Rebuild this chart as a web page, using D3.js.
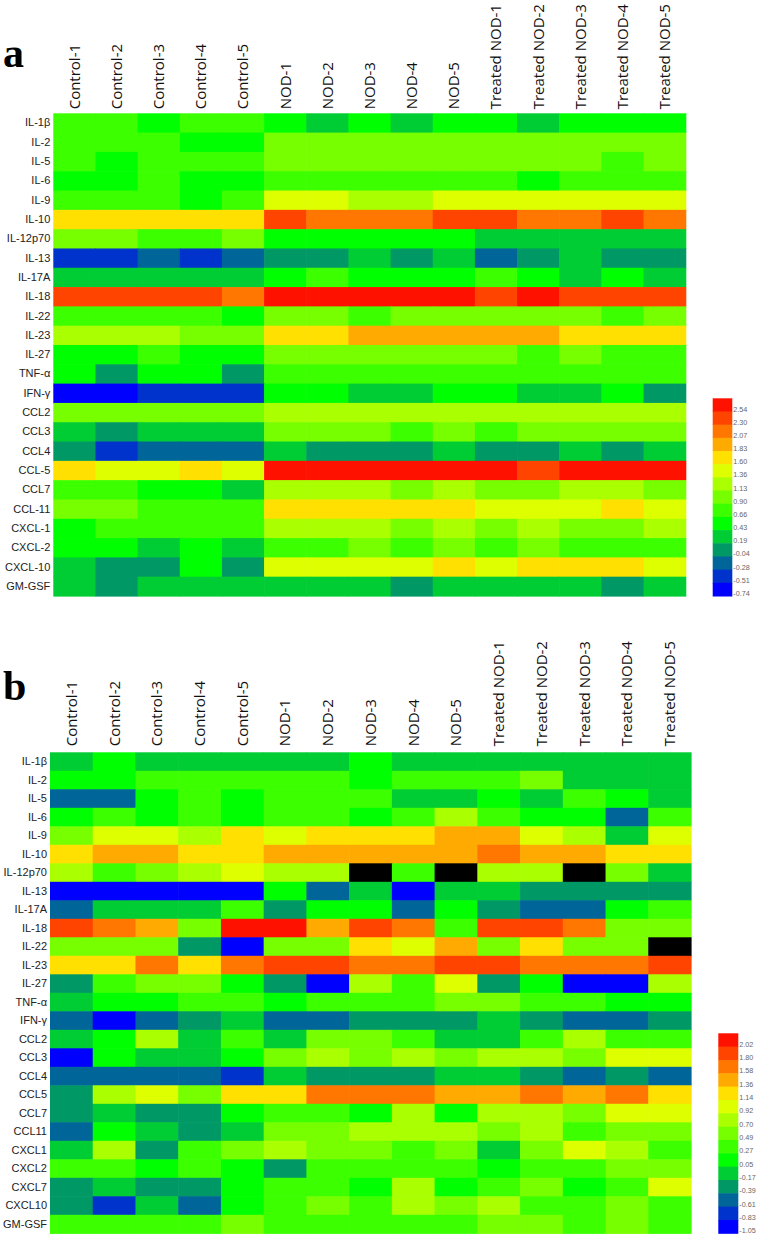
<!DOCTYPE html>
<html>
<head>
<meta charset="utf-8">
<script src="https://cdn.jsdelivr.net/npm/d3@7"></script>
<style>
  html, body { margin: 0; padding: 0; background: #fff; }
  svg { display: block; }
</style>
</head>
<body>
<div id="chart"></div>
<script>
// ---------- DATA ----------
const columns = ["Control-1","Control-2","Control-3","Control-4","Control-5",
  "NOD-1","NOD-2","NOD-3","NOD-4","NOD-5",
  "Treated NOD-1","Treated NOD-2","Treated NOD-3","Treated NOD-4","Treated NOD-5"];

const rowsA = ["IL-1β","IL-2","IL-5","IL-6","IL-9","IL-10","IL-12p70","IL-13","IL-17A","IL-18",
  "IL-22","IL-23","IL-27","TNF-α","IFN-γ","CCL2","CCL3","CCL4","CCL-5","CCL7","CCL-11",
  "CXCL-1","CXCL-2","CXCL-10","GM-GSF"];

const rowsB = ["IL-1β","IL-2","IL-5","IL-6","IL-9","IL-10","IL-12p70","IL-13","IL-17A","IL-18",
  "IL-22","IL-23","IL-27","TNF-α","IFN-γ","CCL2","CCL3","CCL4","CCL5","CCL7","CCL11",
  "CXCL1","CXCL2","CXCL7","CXCL10","GM-GSF"];

const legendTicksA = [-0.74,-0.51,-0.28,-0.04,0.19,0.43,0.66,0.90,1.13,1.36,1.60,1.83,2.07,2.30,2.54];
const legendTicksB = [-1.05,-0.83,-0.61,-0.39,-0.17,0.05,0.27,0.49,0.70,0.92,1.14,1.36,1.58,1.80,2.02];

const palette = ["#0000ff","#0033cc","#006699","#009966","#00cc33","#00ff00","#3cff00","#77ff00",
  "#aaff00","#ddff00","#ffe000","#ffaa00","#ff7700","#ff4400","#ff1100"];
const missingColor = "#000000";

const valuesA = [
  [0.66,0.66,0.43,0.66,0.66,0.43,0.19,0.43,0.19,0.43,0.43,0.19,0.43,0.43,0.43],
  [0.66,0.66,0.66,0.43,0.43,0.90,0.90,0.90,0.90,0.90,0.90,0.90,0.90,0.90,0.90],
  [0.66,0.43,0.66,0.66,0.66,0.90,0.90,0.90,0.90,0.90,0.90,0.90,0.90,0.66,0.90],
  [0.43,0.43,0.66,0.43,0.43,0.66,0.66,0.66,0.66,0.66,0.66,0.43,0.66,0.66,0.66],
  [0.66,0.66,0.66,0.43,0.66,1.36,1.36,1.13,1.13,1.36,1.36,1.36,1.36,1.36,1.36],
  [1.60,1.60,1.60,1.60,1.60,2.30,2.07,2.07,2.07,2.30,2.30,2.07,2.07,2.30,2.07],
  [0.90,0.90,0.66,0.66,0.90,0.43,0.43,0.43,0.43,0.43,0.19,0.19,0.19,0.19,0.19],
  [-0.51,-0.51,-0.28,-0.51,-0.28,-0.04,-0.04,0.19,-0.04,0.19,-0.28,-0.04,0.19,-0.04,-0.04],
  [0.19,0.19,0.19,0.19,0.19,0.43,0.66,0.43,0.43,0.43,0.66,0.43,0.19,0.43,0.19],
  [2.30,2.30,2.30,2.30,2.07,2.54,2.54,2.54,2.54,2.54,2.30,2.54,2.30,2.30,2.30],
  [0.66,0.66,0.66,0.66,0.43,0.90,0.90,0.66,0.90,0.90,0.90,0.90,0.90,0.66,0.90],
  [1.13,1.13,1.13,0.90,0.90,1.60,1.60,1.83,1.83,1.83,1.83,1.83,1.60,1.60,1.60],
  [0.43,0.43,0.66,0.43,0.43,0.90,0.90,0.90,0.90,0.90,0.90,0.66,0.90,0.66,0.66],
  [0.43,-0.04,0.43,0.43,-0.04,0.66,0.66,0.66,0.66,0.66,0.66,0.66,0.66,0.66,0.66],
  [-0.74,-0.74,-0.51,-0.51,-0.51,0.43,0.43,0.19,0.19,0.43,0.43,0.19,0.19,0.43,-0.04],
  [0.90,0.90,0.90,0.90,0.90,1.13,1.13,1.13,1.13,1.13,1.13,1.13,1.13,1.13,1.13],
  [0.19,-0.04,0.19,0.19,0.19,0.90,0.90,0.90,0.66,0.90,0.66,0.90,0.90,0.90,0.90],
  [-0.04,-0.51,-0.28,-0.28,-0.28,0.19,-0.04,-0.04,-0.04,0.19,-0.04,-0.04,0.19,-0.04,0.19],
  [1.60,1.36,1.36,1.60,1.36,2.54,2.54,2.54,2.54,2.54,2.54,2.30,2.54,2.54,2.54],
  [0.66,0.66,0.43,0.43,0.19,1.13,1.13,1.13,0.90,1.13,0.90,0.90,1.13,1.13,0.90],
  [0.90,0.90,0.66,0.66,0.66,1.60,1.60,1.60,1.60,1.60,1.36,1.36,1.36,1.60,1.36],
  [0.43,0.66,0.66,0.66,0.66,1.13,1.13,1.13,0.90,1.13,0.90,1.13,0.90,0.90,1.13],
  [0.43,0.43,0.19,0.43,0.19,0.66,0.66,0.90,0.66,0.90,0.66,0.90,0.66,0.66,0.66],
  [0.19,-0.04,-0.04,0.43,-0.04,1.36,1.36,1.36,1.36,1.60,1.36,1.60,1.60,1.60,1.36],
  [0.19,-0.04,0.19,0.19,0.19,0.19,0.19,0.19,-0.04,0.19,0.19,0.19,0.19,-0.04,0.19]
];

const valuesB = [
  [-0.17,0.05,-0.17,-0.17,-0.17,-0.17,-0.17,0.05,-0.17,-0.17,-0.17,-0.17,-0.17,-0.17,-0.17],
  [0.05,0.05,0.27,0.27,0.27,0.27,0.27,0.05,0.27,0.27,0.27,0.49,-0.17,-0.17,-0.17],
  [-0.61,-0.61,0.05,0.27,0.05,0.27,0.27,0.27,-0.17,-0.17,0.05,-0.17,0.27,0.05,-0.17],
  [0.05,0.27,0.05,0.27,0.05,0.27,0.27,0.05,0.27,0.70,0.27,0.05,0.05,-0.61,0.27],
  [0.49,0.92,0.92,0.70,1.14,0.92,1.14,1.14,1.14,1.36,1.36,0.92,0.70,-0.17,0.92],
  [1.14,1.36,1.36,1.14,1.14,1.36,1.36,1.36,1.36,1.36,1.58,1.36,1.36,1.14,1.14],
  [0.70,0.27,0.49,0.70,0.92,0.70,0.70,null,0.27,null,0.70,0.70,null,0.49,-0.17],
  [-1.05,-1.05,-1.05,-1.05,-1.05,0.05,-0.61,-0.17,-1.05,-0.17,-0.17,-0.39,-0.39,-0.39,-0.39],
  [-0.61,-0.17,-0.17,-0.17,0.27,-0.39,0.05,0.05,-0.61,0.05,-0.39,-0.61,-0.61,0.05,0.27],
  [1.80,1.58,1.36,0.49,2.02,2.02,1.36,1.80,1.58,0.27,1.80,1.80,1.58,0.49,0.49],
  [0.49,0.49,0.49,-0.39,-1.05,0.49,0.49,1.14,0.92,1.36,0.49,1.14,0.49,0.49,null],
  [1.14,1.14,1.58,1.14,1.58,1.80,1.80,1.58,1.58,1.80,1.80,1.58,1.58,1.58,1.80],
  [-0.39,0.27,0.49,0.49,0.05,-0.39,-1.05,0.70,0.27,0.92,-0.39,0.05,-1.05,-1.05,0.70],
  [-0.17,0.05,0.05,0.27,0.27,0.05,0.27,0.27,0.27,0.49,0.49,0.27,0.27,0.05,0.05],
  [-0.61,-1.05,-0.61,-0.39,-0.17,-0.61,-0.61,-0.39,-0.39,-0.39,-0.17,-0.39,-0.61,-0.61,-0.39],
  [-0.17,0.05,0.70,-0.17,0.27,-0.17,0.49,0.49,0.27,-0.17,-0.17,0.27,0.70,0.27,0.27],
  [-1.05,0.05,-0.17,-0.17,0.05,0.49,0.70,0.49,0.70,0.49,0.70,0.70,0.49,0.92,0.92],
  [-0.61,-0.61,-0.61,-0.61,-0.83,-0.17,-0.39,-0.39,-0.39,-0.17,-0.17,-0.39,-0.61,-0.39,-0.61],
  [-0.39,0.70,0.92,0.49,1.14,1.14,1.58,1.58,1.58,1.36,1.36,1.58,1.36,1.58,1.14],
  [-0.39,-0.17,-0.39,-0.39,0.05,0.27,0.27,0.05,0.70,0.05,0.70,0.70,0.49,0.92,0.92],
  [-0.61,0.05,-0.17,-0.39,-0.17,0.49,0.49,0.70,0.70,0.70,0.49,0.70,0.27,0.49,0.49],
  [-0.17,0.70,-0.39,0.27,0.49,0.70,0.49,0.49,0.27,0.49,-0.17,0.49,0.92,0.70,0.27],
  [0.27,0.27,0.05,0.27,0.05,-0.39,0.27,0.27,0.27,0.27,0.05,0.27,0.27,0.49,0.49],
  [-0.39,-0.17,-0.39,-0.39,0.05,0.27,0.27,0.05,0.70,0.05,0.27,0.49,0.05,0.27,0.92],
  [-0.39,-0.83,-0.17,-0.61,0.05,0.27,0.49,0.27,0.70,0.49,0.70,0.27,0.27,0.49,0.27],
  [0.27,0.27,0.27,0.27,0.49,0.27,0.27,0.27,0.27,0.27,0.49,0.49,0.27,0.49,0.27]
];

// ---------- DRAW ----------
const W = 759, H = 1239;
const svg = d3.select("#chart").append("svg")
  .attr("width", W).attr("height", H)
  .style("background", "#fff");

const fmt = d3.formatLocale({ decimal: ".", thousands: ",", grouping: [3], currency: ["", ""], minus: "-" }).format(".2f");

function heatmap(cfg) {
  const { letter, letterY, rows, values, ticks, left, right, top, bottom,
          labelGap, legX, legW, legTop, legBottom } = cfg;

  const x = d3.scaleBand().domain(columns).range([left, right]);
  const y = d3.scaleBand().domain(rows).range([top, bottom]);
  const step = ticks[1] - ticks[0];
  const color = d3.scaleQuantize()
    .domain([ticks[0] - step / 2, ticks[ticks.length - 1] + step / 2])
    .range(palette);

  const cells = [];
  rows.forEach((r, i) => columns.forEach((c, j) => cells.push({ r, c, v: values[i][j] })));

  const g = svg.append("g");
  g.selectAll("rect.cell").data(cells).join("rect")
    .attr("class", "cell")
    .attr("x", d => x(d.c))
    .attr("y", d => y(d.r))
    .attr("width", x.bandwidth() + 0.6)
    .attr("height", y.bandwidth() + 0.6)
    .attr("fill", d => d.v == null ? missingColor : color(d.v));

  // row labels
  const yAxis = g.append("g")
    .attr("transform", `translate(${left},0)`)
    .call(d3.axisLeft(y).tickSize(0).tickPadding(3));
  yAxis.select(".domain").remove();
  yAxis.selectAll("text")
    .attr("font-family", "'Liberation Sans', Arial, sans-serif")
    .attr("font-size", 11)
    .attr("fill", "#222");

  // column labels
  const xAxis = g.append("g")
    .attr("transform", `translate(0,${top})`)
    .call(d3.axisTop(x).tickSize(0));
  xAxis.select(".domain").remove();
  xAxis.selectAll("text")
    .attr("transform", "rotate(-90)")
    .attr("x", labelGap)
    .attr("y", 0)
    .attr("dy", "0.36em")
    .style("text-anchor", "start")
    .attr("font-family", "'Open Sans', sans-serif")
    .attr("font-size", 15)
    .attr("fill", "#111");

  // panel letter
  svg.append("text")
    .attr("x", 3).attr("y", letterY)
    .attr("font-family", "'Liberation Serif', 'Times New Roman', serif")
    .attr("font-weight", "bold")
    .attr("font-size", 42)
    .attr("fill", "#000")
    .text(letter);

  // legend
  const lev = ticks.slice().reverse();
  const ly = d3.scaleBand().domain(lev).range([legTop, legBottom]);
  const lg = svg.append("g");
  lg.selectAll("rect").data(lev).join("rect")
    .attr("x", legX).attr("width", legW)
    .attr("y", d => ly(d)).attr("height", ly.bandwidth() + 0.5)
    .attr("fill", d => color(d));
  lg.selectAll("text").data(lev).join("text")
    .attr("x", legX + legW + 1)
    .attr("y", d => ly(d) + ly.bandwidth() - 2.5)
    .attr("dy", "0.35em")
    .attr("font-family", "'Liberation Sans', Arial, sans-serif")
    .attr("font-size", 7.2)
    .attr("fill", "#666")
    .text(d => fmt(d));
}

heatmap({
  letter: "a", letterY: 67, rows: rowsA, values: valuesA, ticks: legendTicksA,
  left: 53.3, right: 685.7, top: 113.3, bottom: 596, labelGap: 4,
  legX: 712.7, legW: 19.6, legTop: 398.3, legBottom: 596
});

heatmap({
  letter: "b", letterY: 700, rows: rowsB, values: valuesB, ticks: legendTicksB,
  left: 50, right: 691, top: 752.3, bottom: 1233.3, labelGap: 6,
  legX: 718.3, legW: 20, legTop: 1033.3, legBottom: 1233.3
});
</script>
</body>
</html>
